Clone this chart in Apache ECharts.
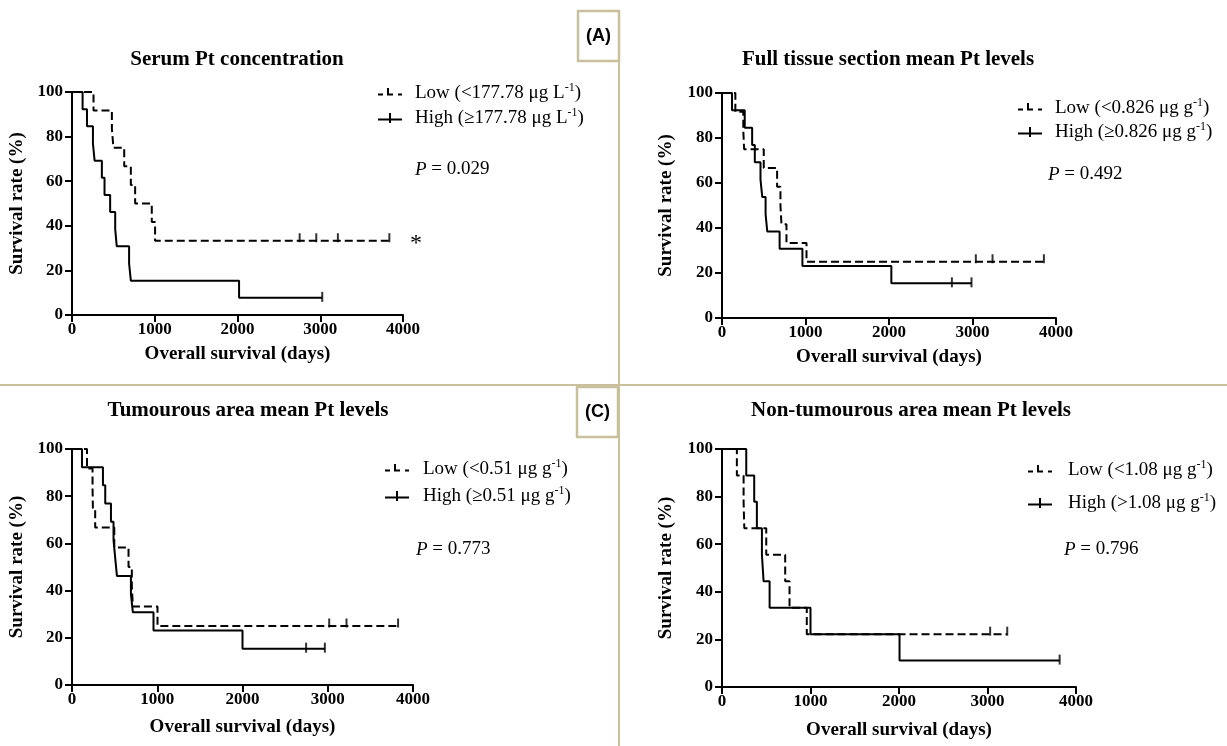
<!DOCTYPE html>
<html>
<head>
<meta charset="utf-8">
<script src="https://cdn.jsdelivr.net/npm/echarts@6/dist/echarts.min.js"></script>
<style>
  html, body { margin: 0; padding: 0; background: #fff; }
  #chart { width: 1227px; height: 746px; }
</style>
</head>
<body>
<div id="chart"></div>
<script>
// Kaplan-Meier curves (days, % surviving)
var titles = [
  'Serum Pt concentration',
  'Full tissue section mean Pt levels',
  'Tumourous area mean Pt levels',
  'Non-tumourous area mean Pt levels'
];
var lowNames = [
  'Low (<177.78 μg L-1)',
  'Low (<0.826 μg g-1)',
  'Low (<0.51 μg g-1)',
  'Low (<1.08 μg g-1)'
];
var highNames = [
  'High (≥177.78 μg L-1)',
  'High (≥0.826 μg g-1)',
  'High (≥0.51 μg g-1)',
  'High (>1.08 μg g-1)'
];
var pValues = ['0.029', '0.492', '0.773', '0.796'];

var xTicks = [0, 1000, 2000, 3000, 4000];
var yTicks = [0, 20, 40, 60, 80, 100];

// (A) serum
var serumLowT  = [0, 260, 482, 501, 631, 711, 763, 964, 1004, 3835];
var serumLowS  = [100, 91.7, 83.3, 75, 66.7, 58.3, 50, 41.7, 33.3, 33.3];
var serumLowCensT = [2751, 2952, 3213, 3835];
var serumLowCensS = [33.3, 33.3, 33.3, 33.3];
var serumHighT = [0, 128, 181, 253, 273, 361, 393, 461, 522, 541, 690, 711, 2019, 3024];
var serumHighS = [100, 92.3, 84.6, 76.9, 69.2, 61.5, 53.8, 46.2, 38.5, 30.8, 23.1, 15.4, 7.7, 7.7];
var serumHighCensT = [3024];
var serumHighCensS = [7.7];

// full tissue section
var fullLowT  = [0, 160, 255, 265, 500, 660, 700, 712, 772, 1012, 3855];
var fullLowS  = [100, 91.7, 83.3, 75, 66.7, 58.3, 50, 41.7, 33.3, 25, 25];
var fullLowCensT = [3040, 3240, 3855];
var fullLowCensS = [25, 25, 25];
var fullHighT = [0, 120, 272, 361, 393, 461, 482, 522, 542, 690, 963, 2028, 2988];
var fullHighS = [100, 92.3, 84.6, 76.9, 69.2, 61.5, 53.8, 46.2, 38.5, 30.8, 23.1, 15.4, 15.4];
var fullHighCensT = [2753, 2988];
var fullHighCensS = [15.4, 15.4];

// (C) tumourous area
var tumLowT  = [0, 176, 241, 245, 272, 496, 663, 702, 714, 1003, 3825];
var tumLowS  = [100, 91.7, 83.3, 75, 66.7, 58.3, 50, 41.7, 33.3, 25, 25];
var tumLowCensT = [3017, 3220, 3825];
var tumLowCensS = [25, 25, 25];
var tumHighT = [0, 117, 363, 390, 457, 487, 507, 527, 691, 714, 956, 2000, 2966];
var tumHighS = [100, 92.3, 84.6, 76.9, 69.2, 61.5, 53.8, 46.2, 38.5, 30.8, 23.1, 15.4, 15.4];
var tumHighCensT = [2746, 2966];
var tumHighCensS = [15.4, 15.4];

// non-tumourous area
var nonLowT  = [0, 168, 244, 252, 500, 714, 763, 958, 3223];
var nonLowS  = [100, 88.9, 77.8, 66.7, 55.6, 44.4, 33.3, 22.2, 22.2];
var nonLowCensT = [3030, 3223];
var nonLowCensS = [22.2, 22.2];
var nonHighT = [0, 274, 364, 394, 451, 470, 538, 1000, 2006, 3815];
var nonHighS = [100, 88.9, 77.8, 66.7, 55.6, 44.4, 33.3, 22.2, 11.1, 11.1];
var nonHighCensT = [3815];
var nonHighCensS = [11.1];

var panels = [
  { low: [serumLowT, serumLowS], lowC: [serumLowCensT, serumLowCensS], high: [serumHighT, serumHighS], highC: [serumHighCensT, serumHighCensS] },
  { low: [fullLowT, fullLowS], lowC: [fullLowCensT, fullLowCensS], high: [fullHighT, fullHighS], highC: [fullHighCensT, fullHighCensS] },
  { low: [tumLowT, tumLowS], lowC: [tumLowCensT, tumLowCensS], high: [tumHighT, tumHighS], highC: [tumHighCensT, tumHighCensS] },
  { low: [nonLowT, nonLowS], lowC: [nonLowCensT, nonLowCensS], high: [nonHighT, nonHighS], highC: [nonHighCensT, nonHighCensS] }
];

// layout
var grids = [
  { left: 72, top: 92, width: 331, height: 223 },
  { left: 722, top: 93, width: 334, height: 225 },
  { left: 72, top: 449, width: 341, height: 236 },
  { left: 722, top: 449, width: 354, height: 238 }
];
var titlePos = [[237, 49], [888, 49], [248, 400], [911, 400]];
var xNameGap = [30, 30, 33, 34];
var yNameGap = [45, 46, 45, 46];
var legendPos = [[378, 82, 3, 8], [1018, 97, 2, 8], [385, 458, 5, 9], [1028, 459, 11, 11]];
var pPos = [[415, 171], [1048, 176], [416, 551], [1064, 551]];

var SERIF = '"Liberation Serif", "Times New Roman", serif';
var BEIGE = '#c9c09e';
var ICON_HIGH = 'path://M0,5.5H24V7.5H0Z M11,0H13V10H11Z';
var ICON_LOW = 'path://M0,5.5H5V7.5H0Z M9,0H11V7.5H9Z M9,5.5H15V7.5H9Z M20,5.5H24V7.5H20Z M23.95,9.95H24V10H23.95Z';

function pairs(t, s) {
  return t.map(function (v, i) { return [v, s[i]]; });
}

function supFormatter(name) {
  return name.replace(/-1\)$/, '{sup|-1})');
}

var option = {
  backgroundColor: '#fff',
  animation: false,
  title: [],
  legend: [],
  grid: [],
  xAxis: [],
  yAxis: [],
  series: [],
  graphic: []
};

panels.forEach(function (p, i) {
  var g = grids[i];
  option.grid.push({ left: g.left, top: g.top, width: g.width, height: g.height, containLabel: false, outerBoundsMode: 'none' });
  option.title.push({
    text: titles[i], left: titlePos[i][0], top: titlePos[i][1], padding: 0,
    textAlign: 'center', textVerticalAlign: 'top',
    textStyle: { fontFamily: SERIF, fontWeight: 'bold', fontSize: 21, color: '#000' }
  });
  option.xAxis.push({
    gridIndex: i, type: 'value', min: xTicks[0], max: xTicks[xTicks.length - 1], interval: 1000,
    name: 'Overall survival (days)', nameLocation: 'middle', nameGap: xNameGap[i],
    nameTextStyle: { fontFamily: SERIF, fontWeight: 'bold', fontSize: 19, color: '#000' },
    axisLine: { show: true, onZero: false, lineStyle: { color: '#000', width: 2 } },
    axisTick: { show: true, length: 7, lineStyle: { color: '#000', width: 2 } },
    axisLabel: {
      color: '#000', fontFamily: SERIF, fontWeight: 'bold', fontSize: 17, margin: 6,
      formatter: function (v) { return String(v); }
    },
    splitLine: { show: false }
  });
  option.yAxis.push({
    gridIndex: i, type: 'value', min: yTicks[0], max: yTicks[yTicks.length - 1], interval: 20,
    name: 'Survival rate (%)', nameLocation: 'middle', nameGap: yNameGap[i],
    nameTextStyle: { fontFamily: SERIF, fontWeight: 'bold', fontSize: 19, color: '#000' },
    axisLine: { show: true, onZero: false, lineStyle: { color: '#000', width: 2 } },
    axisTick: { show: true, length: 7, lineStyle: { color: '#000', width: 2 } },
    axisLabel: {
      color: '#000', fontFamily: SERIF, fontWeight: 'bold', fontSize: 17, margin: 9,
      formatter: function (v) { return String(v); }
    },
    splitLine: { show: false }
  });

  option.series.push({
    type: 'line', name: lowNames[i], xAxisIndex: i, yAxisIndex: i,
    data: pairs(p.low[0], p.low[1]), step: 'end', symbol: 'none', showSymbol: false, silent: true,
    itemStyle: { color: '#000' },
    lineStyle: { color: '#000', width: 2, type: [8, 4] }
  });
  option.series.push({
    type: 'line', name: highNames[i], xAxisIndex: i, yAxisIndex: i,
    data: pairs(p.high[0], p.high[1]), step: 'end', symbol: 'none', showSymbol: false, silent: true,
    itemStyle: { color: '#000' },
    lineStyle: { color: '#000', width: 2, type: 'solid' }
  });
  option.series.push({
    type: 'scatter', name: 'censored-low-' + i, xAxisIndex: i, yAxisIndex: i,
    data: pairs(p.lowC[0], p.lowC[1]), symbol: 'rect', symbolSize: [2, 9], symbolOffset: [0, -3],
    itemStyle: { color: '#000' }, silent: true
  });
  option.series.push({
    type: 'scatter', name: 'censored-high-' + i, xAxisIndex: i, yAxisIndex: i,
    data: pairs(p.highC[0], p.highC[1]), symbol: 'rect', symbolSize: [2, 10], symbolOffset: [0, -1],
    itemStyle: { color: '#000' }, silent: true
  });

  var lp = legendPos[i];
  option.legend.push({
    data: [{ name: lowNames[i], icon: ICON_LOW }, { name: highNames[i], icon: ICON_HIGH }],
    left: lp[0], top: lp[1], orient: 'vertical', padding: 0,
    itemWidth: 24, itemHeight: 10, itemGap: lp[2], selectedMode: false,
    itemStyle: { color: '#000', borderWidth: 0 },
    formatter: supFormatter,
    textStyle: {
      fontFamily: SERIF, fontSize: 19, color: '#000', lineHeight: 22, padding: [0, 0, 0, lp[3]],
      rich: { sup: { fontFamily: SERIF, fontSize: 12, color: '#000', verticalAlign: 'top', lineHeight: 22, padding: [0, 0, 8, 0] } }
    }
  });

  option.graphic.push({
    type: 'text', left: pPos[i][0], top: pPos[i][1] - 11,
    style: {
      text: '{i|P}{n| = ' + pValues[i] + '}',
      rich: {
        i: { fontFamily: SERIF, fontStyle: 'italic', fontSize: 19, fill: '#000' },
        n: { fontFamily: SERIF, fontSize: 19, fill: '#000' }
      }
    }
  });
});

// significance mark, panel dividers and panel letters
option.graphic.push(
  { type: 'text', left: 410, top: 232, style: { text: '*', font: '24px ' + SERIF, fill: '#000' } },
  { type: 'line', shape: { x1: 0, y1: 385, x2: 1227, y2: 385 }, style: { stroke: BEIGE, lineWidth: 2 } },
  { type: 'line', shape: { x1: 619, y1: 61, x2: 619, y2: 746 }, style: { stroke: BEIGE, lineWidth: 2 } },
  { type: 'rect', shape: { x: 578, y: 11, width: 41, height: 50 }, style: { fill: '#fff', stroke: BEIGE, lineWidth: 2.5 } },
  { type: 'text', x: 598.5, y: 36, style: { text: '(A)', font: 'bold 18px "Liberation Sans", Arial, sans-serif', fill: '#000', align: 'center', verticalAlign: 'middle' } },
  { type: 'rect', shape: { x: 577, y: 387, width: 41, height: 50 }, style: { fill: '#fff', stroke: BEIGE, lineWidth: 2.5 } },
  { type: 'text', x: 597.5, y: 412, style: { text: '(C)', font: 'bold 18px "Liberation Sans", Arial, sans-serif', fill: '#000', align: 'center', verticalAlign: 'middle' } }
);

var chart = echarts.init(document.getElementById('chart'), null, { renderer: 'canvas' });
chart.setOption(option);
</script>
</body>
</html>
